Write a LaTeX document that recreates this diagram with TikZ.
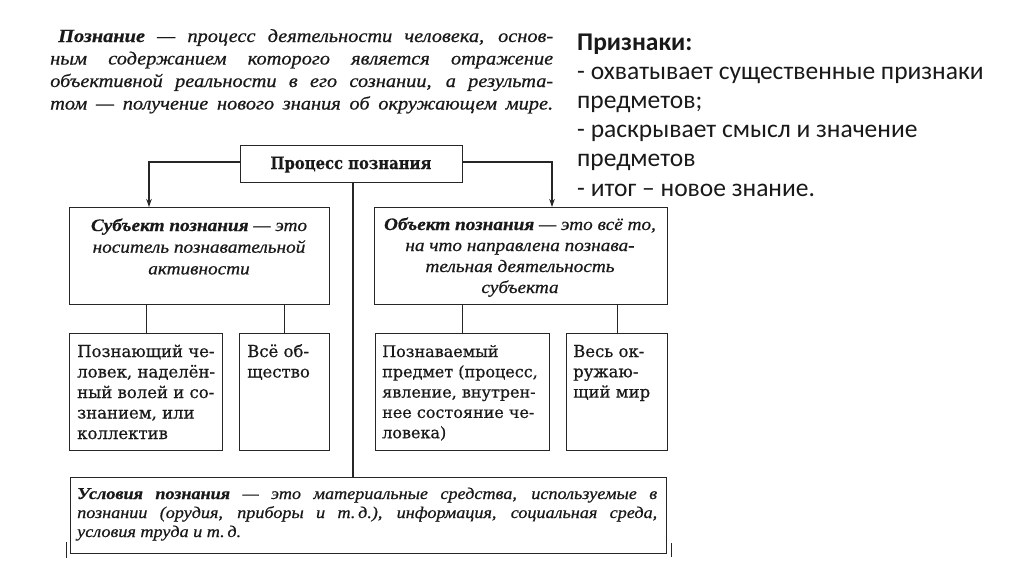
\documentclass[tikz,border=0pt]{standalone}
\usepackage{fontspec}
\setmainfont{DejaVu Serif}
\newfontfamily\calfont{Carlito}
\newfontfamily\itfont[FakeStretch=1.1, FakeBold=0.6]{Liberation Serif}
\newfontfamily\upfont[FakeBold=0.5]{DejaVu Serif}
\newfontfamily\bcond[FakeStretch=0.87, FakeBold=0.4]{DejaVu Serif}
\usetikzlibrary{arrows.meta}
\begin{document}
\begin{tikzpicture}[x=1pt,y=-1pt,
  box/.style={draw=black!85, line width=1.2pt, inner sep=0pt, anchor=north west},
  conn/.style={draw=black!85, line width=1.1pt},
  arr/.style={conn, -{Stealth[length=8pt,width=5.5pt]}},
  txt/.style={inner sep=0pt, anchor=base west, text=black!90}]
\useasboundingbox[fill=white] (0,0) rectangle (1024,574);

% definition paragraph
\node[txt] (def) at (50,42) {\parbox[t]{503pt}{\itfont\itshape\fontsize{18.5}{22.5}\selectfont
\hspace*{8pt}\makebox[495pt][s]{\textbf{Познание} — процесс деятельности человека, основ-}\\
\makebox[503pt][s]{ным содержанием которого является отражение}\\
\makebox[503pt][s]{объективной реальности в его сознании, а результа-}\\
\makebox[503pt][s]{том — получение нового знания об окружающем мире.}}};

% boxes
\node[box, minimum width=222pt, minimum height=37pt] (proc) at (240,145) {};
\node[box, minimum width=260pt, minimum height=97pt] (subj) at (69,207) {};
\node[box, minimum width=293pt, minimum height=97pt] (obj) at (374,207) {};
\node[box, minimum width=153pt, minimum height=117pt] (c1) at (69,333) {};
\node[box, minimum width=90pt, minimum height=117pt] (c2) at (239,333) {};
\node[box, minimum width=174pt, minimum height=117pt] (c3) at (375,333) {};
\node[box, minimum width=101pt, minimum height=117pt] (c4) at (566,333) {};
\node[box, minimum width=596pt, minimum height=76pt] (cond) at (70,477) {};

% texts
\node[txt, anchor=base] (proct) at (351,169) {\bcond\bfseries\fontsize{17}{17}\selectfont Процесс познания};

\node[txt, anchor=base] (subjt) at (199,231) {\parbox[t]{255pt}{\centering\itfont\itshape\fontsize{17.5}{21.7}\selectfont
\textbf{Субъект познания} — это\\ носитель познавательной\\ активности}};

\node[txt, anchor=base] (objt) at (520,230) {\parbox[t]{290pt}{\centering\itfont\itshape\fontsize{17.5}{21}\selectfont
\textbf{Объект познания} — это всё то,\\ на что направлена познава-\\ тельная деятельность\\ субъекта}};

\node[txt] (c1t) at (77,357) {\parbox[t]{150pt}{\raggedright\upfont\fontsize{16.5}{20.5}\selectfont
Познающий че-\\ ловек, наделён-\\ ный волей и со-\\ знанием, или\\ коллектив}};
\node[txt] (c2t) at (247,357) {\parbox[t]{85pt}{\raggedright\upfont\fontsize{16.5}{20.5}\selectfont
Всё об-\\ щество}};
\node[txt] (c3t) at (382,357) {\parbox[t]{170pt}{\raggedright\upfont\fontsize{16}{20.3}\selectfont
Познаваемый\\ предмет (процесс,\\ явление, внутрен-\\ нее состояние че-\\ ловека)}};
\node[txt] (c4t) at (573,357) {\parbox[t]{95pt}{\raggedright\upfont\fontsize{16.5}{20.3}\selectfont
Весь ок-\\ ружаю-\\ щий мир}};

\node[txt] (condt) at (77,499) {\parbox[t]{580pt}{\itfont\itshape\fontsize{16.5}{19}\selectfont
\makebox[580pt][s]{\textbf{Условия познания} — это материальные средства, используемые в}\\
\makebox[580pt][s]{познании (орудия, приборы и т.\,д.), информация, социальная среда,}\\
условия труда и т.\,д.}};

% right list
\node[txt] (signs) at (577,50) {\parbox[t]{440pt}{\calfont\fontsize{25.5}{29.2}\selectfont
\textbf{Признаки:}\\
- охватывает существенные признаки\\
предметов;\\
- раскрывает смысл и значение\\
предметов\\
- итог – новое знание.}};

% connectors
\draw[arr] (proc.west |- 0,162) -| ([xshift=80pt]subj.north west);
\draw[arr] (proc.east |- 0,162) -| ([xshift=178pt]obj.north west);
\draw[conn] ([xshift=113pt]proc.south west) -- ([xshift=113pt]proc.south west |- cond.north);
\draw[conn] (c1.north |- subj.south) -- (c1.north);
\draw[conn] (c2.north |- subj.south) -- (c2.north);
\draw[conn] (c3.north |- obj.south) -- (c3.north);
\draw[conn] (c4.north |- obj.south) -- (c4.north);

% scan marks beside the bottom box
\draw[conn, line width=0.9pt] (66,542) -- (66,558);
\draw[conn, line width=0.9pt] (671,543) -- (671,557);
\end{tikzpicture}
\end{document}
